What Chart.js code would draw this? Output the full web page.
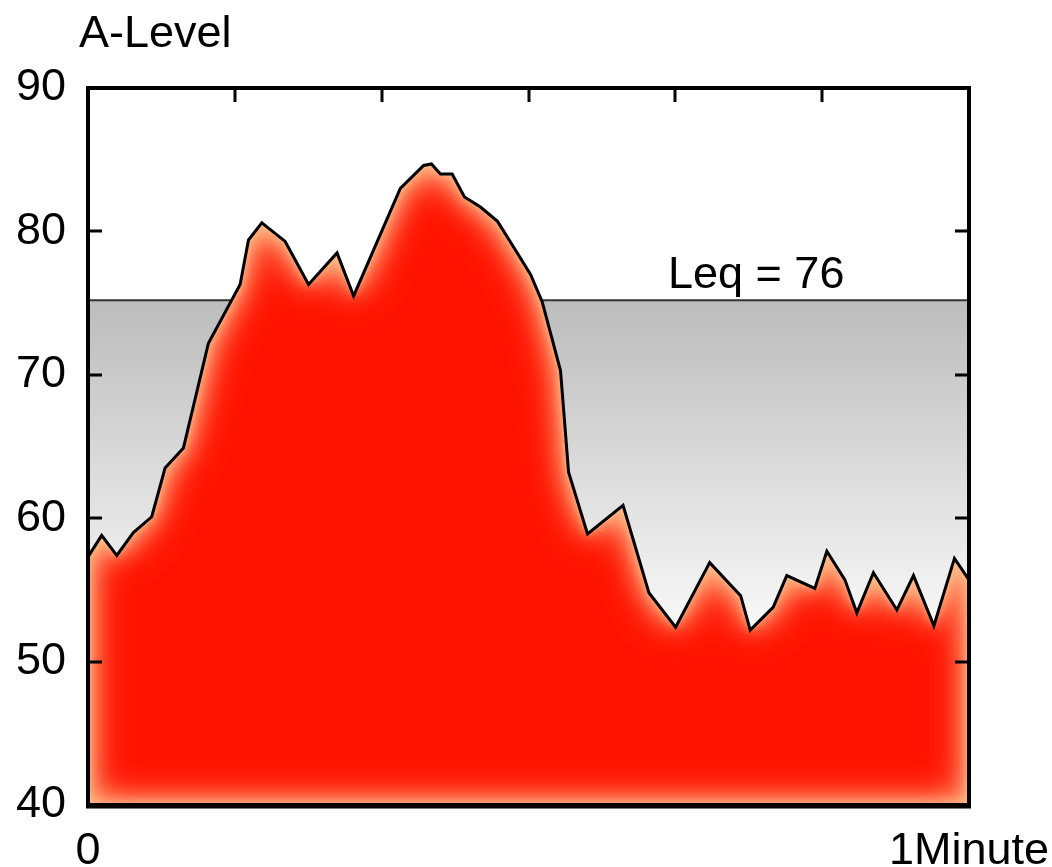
<!DOCTYPE html>
<html>
<head>
<meta charset="utf-8">
<script src="https://cdn.jsdelivr.net/npm/chart.js@4.4.1/dist/chart.umd.min.js"></script>
<style>
  body { margin: 0; background: #fff; }
</style>
</head>
<body>
<canvas id="chart" width="1052" height="867"></canvas>
<script>
// time in seconds, A-weighted level in dB
const seconds = [0, 0.93, 1.96, 3.09, 4.34, 5.25, 6.5, 8.2, 10.36, 10.93, 11.84, 13.43, 15.02, 16.96, 18.09,
  21.27, 22.86, 23.39, 24.0, 24.8, 25.64, 26.73, 27.89, 29.11, 30.14, 30.93, 32.18, 32.73, 34.02, 36.44,
  38.2, 40.02, 42.34, 44.45, 45.1, 46.67, 47.59, 49.5, 50.32, 51.55, 52.36, 53.49, 55.09, 56.22, 57.61, 59.01, 60];
const levels = [57.3, 58.8, 57.4, 59.0, 60.1, 63.5, 64.9, 72.2, 76.3, 79.4, 80.6, 79.3, 76.3, 78.5, 75.5,
  83.0, 84.6, 84.7, 84.0, 84.0, 82.4, 81.7, 80.7, 78.7, 77.0, 75.1, 70.3, 63.2, 58.9, 60.9,
  54.8, 52.4, 56.9, 54.6, 52.2, 53.8, 56.0, 55.1, 57.7, 55.7, 53.4, 56.2, 53.6, 56.0, 52.5, 57.2, 55.7];
const leq = 75.2;
const leqLabel = 'Leq = 76';
const yTicks = [40, 50, 60, 70, 80, 90];
const xTicks = [0, 10, 20, 30, 40, 50, 60];
const xTickLabels = ['0', '', '', '', '', '', '1Minute'];
const yTitle = 'A-Level';

const FONT = '"Liberation Sans", Arial, Helvetica, sans-serif';
Chart.defaults.font.family = FONT;
Chart.defaults.color = '#000';

// soft orange inner glow along the edges of the red area
const glow = {
    id: 'glow',
    beforeDatasetDraw(chart, args) {
        if (args.index !== 0) return;
        const pts = args.meta.data;
        const area = chart.chartArea;
        const ctx = chart.ctx;
        const outline = () => {
            ctx.moveTo(pts[0].x, area.bottom);
            pts.forEach(p => ctx.lineTo(p.x, p.y));
            ctx.lineTo(pts[pts.length - 1].x, area.bottom);
            ctx.closePath();
        };
        ctx.save();
        ctx.beginPath();
        outline();
        ctx.clip();
        [42, 24, 10].forEach(blur => {
            ctx.beginPath();
            ctx.rect(-3000, -3000, 8000, 8000);
            outline();
            ctx.fillStyle = '#ffc08c';
            ctx.shadowColor = '#ffc08c';
            ctx.shadowBlur = blur;
            ctx.fill('evenodd');
        });
        ctx.restore();
    }
};

const frame = {
    id: 'frame',
    afterDatasetsDraw(chart) {
        const {ctx, chartArea: a, scales} = chart;
        ctx.save();
        ctx.strokeStyle = '#000';
        ctx.lineWidth = 3;
        ctx.beginPath();
        yTicks.slice(1, -1).forEach(v => {
            const y = Math.round(scales.y.getPixelForValue(v));
            ctx.moveTo(a.left, y); ctx.lineTo(a.left + 14, y);
            ctx.moveTo(a.right, y); ctx.lineTo(a.right - 14, y);
        });
        xTicks.slice(1, -1).forEach(v => {
            const x = Math.round(scales.x.getPixelForValue(v));
            ctx.moveTo(x, a.top); ctx.lineTo(x, a.top + 14);
        });
        ctx.stroke();
        ctx.lineWidth = 4;
        ctx.strokeRect(a.left, a.top, a.right - a.left, a.bottom - a.top);
        ctx.beginPath();
        ctx.lineWidth = 5;
        ctx.moveTo(a.left - 2, a.bottom + 1);
        ctx.lineTo(a.right + 2, a.bottom + 1);
        ctx.stroke();

        ctx.fillStyle = '#000';
        ctx.font = '45px ' + FONT;
        ctx.textAlign = 'left';
        ctx.textBaseline = 'alphabetic';
        ctx.fillText(leqLabel, scales.x.getPixelForValue(39.5), scales.y.getPixelForValue(leq) - 12);
        ctx.fillText(yTitle, 79, 47);
        ctx.restore();
    }
};

new Chart(document.getElementById('chart'), {
    type: 'line',
    data: {
        datasets: [{
            data: seconds.map((s, i) => ({x: s, y: levels[i]})),
            fill: 'start',
            backgroundColor: '#ff1200',
            borderColor: '#000',
            borderWidth: 3,
            borderJoinStyle: 'miter',
            pointRadius: 0,
            tension: 0,
            order: 1
        }, {
            data: [{x: 0, y: leq}, {x: 60, y: leq}],
            fill: 'start',
            backgroundColor: (c) => {
                const chart = c.chart;
                const a = chart.chartArea;
                if (!a) return '#ccc';
                const y0 = chart.scales.y.getPixelForValue(leq);
                const g = chart.ctx.createLinearGradient(0, y0, 0, a.bottom);
                g.addColorStop(0, '#bcbcbc');
                g.addColorStop(0.62, '#f6f6f6');
                g.addColorStop(1, '#ffffff');
                return g;
            },
            borderColor: '#333',
            borderWidth: 2,
            pointRadius: 0,
            order: 2
        }]
    },
    options: {
        responsive: false,
        animation: false,
        layout: {
            padding: {left: 0, top: 88, right: 83, bottom: 0}
        },
        scales: {
            x: {
                type: 'linear',
                min: 0,
                max: 60,
                afterBuildTicks: (scale) => { scale.ticks = xTicks.map(v => ({value: v})); },
                afterFit: (scale) => {
                    scale.height = 62;
                    scale.paddingLeft = 0;
                    scale.paddingRight = 0;
                },
                grid: {display: false, drawTicks: false},
                border: {display: false},
                ticks: {
                    autoSkip: false,
                    maxRotation: 0,
                    padding: 20,
                    font: {size: 45},
                    callback: (v) => xTickLabels[xTicks.indexOf(v)]
                }
            },
            y: {
                min: 40,
                max: 90,
                afterBuildTicks: (scale) => { scale.ticks = yTicks.map(v => ({value: v})); },
                afterFit: (scale) => {
                    scale.width = 88;
                    scale.paddingTop = 0;
                    scale.paddingBottom = 0;
                },
                grid: {display: false, drawTicks: false},
                border: {display: false},
                ticks: {
                    padding: 22,
                    font: {size: 45}
                }
            }
        },
        plugins: {
            legend: {display: false},
            tooltip: {enabled: false}
        }
    },
    plugins: [glow, frame]
});
</script>
</body>
</html>
